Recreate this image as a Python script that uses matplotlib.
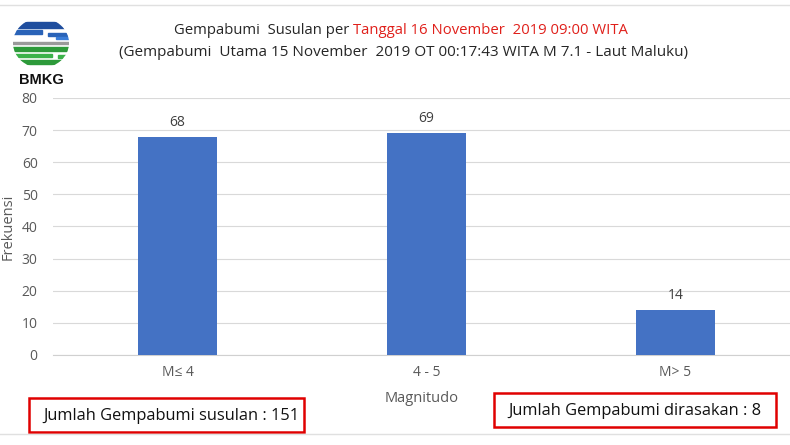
import matplotlib
matplotlib.use("Agg")
import matplotlib.pyplot as plt
from matplotlib.patches import Rectangle, Ellipse
from matplotlib.lines import Line2D

plt.rcParams["font.family"] = ["Open Sans", "DejaVu Sans"]

categories = ["M≤ 4", "4 - 5", "M> 5"]
counts = [68, 69, 14]
total_susulan = 151
total_dirasakan = 8

W, H = 790, 445
fig = plt.figure(figsize=(W / 100, H / 100), dpi=100)
fig.patch.set_facecolor("white")

# ── Main bar axes ─────────────────────────────────────────────────────────────
ax = fig.add_axes([53 / W, (H - 355) / H, (W - 53) / W, (355 - 98) / H])
x = range(len(categories))
bars = ax.bar(x, counts, width=0.317, color="#4472c4", zorder=3)
ax.bar_label(bars, padding=5, fontsize=10, color="#404040")
ax.set_xlim(-0.5, 2.46)
ax.set_ylim(0, 80)
ax.set_yticks(range(0, 81, 10))
ax.set_xticks(list(x))
ax.set_xticklabels(categories)
ax.tick_params(axis="both", length=0, labelsize=10, labelcolor="#595959")
ax.tick_params(axis="y", pad=11)
ax.tick_params(axis="x", pad=7)
ax.grid(axis="y", color="#d9d9d9", linewidth=0.8, zorder=0)
for s in ["top", "right", "left"]:
    ax.spines[s].set_visible(False)
ax.spines["bottom"].set_color("#d0d0d0")
ax.set_xlabel("Magnitudo", fontsize=10.5, color="#595959", labelpad=8)
fig.text(8 / W, 1 - 227 / H, "Frekuensi", fontsize=10.5, color="#595959",
         rotation=90, ha="center", va="center")

# ── Title (two colours on first line) ─────────────────────────────────────────
fig.canvas.draw()
r = fig.canvas.get_renderer()
t1a = fig.text(0, 1 - 30 / H, "Gempabumi  Susulan per ", fontsize=10.7, color="#262626", va="center")
t1b = fig.text(0, 1 - 30 / H, "Tanggal 16 November  2019 09:00 WITA", fontsize=10.7,
               color="#e0201b", va="center")
wa = t1a.get_window_extent(r).width / W
wb = t1b.get_window_extent(r).width / W
x0 = 401 / W - (wa + wb) / 2
t1a.set_x(x0)
t1b.set_x(x0 + wa)
fig.text(403 / W, 1 - 52 / H,
         "(Gempabumi  Utama 15 November  2019 OT 00:17:43 WITA M 7.1 - Laut Maluku)",
         fontsize=11, color="#262626", ha="center", va="center")

# ── BMKG logo (rough) ─────────────────────────────────────────────────────────
lax = fig.add_axes([12 / W, 1 - 69 / H, 58 / W, 52 / H])
lax.set_xlim(0, 58); lax.set_ylim(0, 52); lax.axis("off")
clip = Ellipse((29, 26), 56, 50, transform=lax.transData)
stripes = [(44, 0, 58, 5, "#1f4e9e"), (37, 0, 30, 3, "#2a63b8"), (35, 36, 58, 3, "#2a63b8"),
           (31, 44, 58, 2, "#3b7dd8"),
           (26, 0, 58, 1.2, "#9a9a9a"),
           (20, 0, 58, 4, "#2d9a3a"), (14, 0, 40, 3, "#3bb24a"), (13, 46, 58, 3, "#3bb24a"),
           (7, 0, 58, 4, "#2d9a3a")]
for yy, xa, xb, hh, cc in stripes:
    p = lax.add_patch(Rectangle((xa, yy - hh / 2), xb - xa, hh, color=cc))
    p.set_clip_path(clip)
fig.text(41 / W, 1 - 80 / H, "BMKG", fontsize=10.5, fontweight="bold",
         family=["Liberation Sans", "DejaVu Sans"], color="#111111", ha="center", va="center")

# ── Screenshot separator lines ────────────────────────────────────────────────
fig.lines.append(Line2D([0, 1], [1 - 5 / H, 1 - 5 / H], transform=fig.transFigure,
                        color="#e0e0e0", linewidth=1))
fig.lines.append(Line2D([0, 1], [1 - 434 / H, 1 - 434 / H], transform=fig.transFigure,
                        color="#e0e0e0", linewidth=1))

# ── Summary boxes ─────────────────────────────────────────────────────────────
fig.patches.append(Rectangle((29 / W, 1 - 432 / H), 275 / W, 34 / H, transform=fig.transFigure,
                             facecolor="white", edgecolor="#e00000", linewidth=1.8))
fig.text(171 / W, 1 - 416 / H, f"Jumlah Gempabumi susulan : {total_susulan}",
         fontsize=11.8, color="#111111", ha="center", va="center")
fig.patches.append(Rectangle((494 / W, 1 - 427 / H), 282 / W, 34 / H, transform=fig.transFigure,
                             facecolor="white", edgecolor="#e00000", linewidth=1.8))
fig.text(635 / W, 1 - 411 / H, f"Jumlah Gempabumi dirasakan : {total_dirasakan}",
         fontsize=11.8, color="#111111", ha="center", va="center")

fig.savefig("out.png", dpi=100)
